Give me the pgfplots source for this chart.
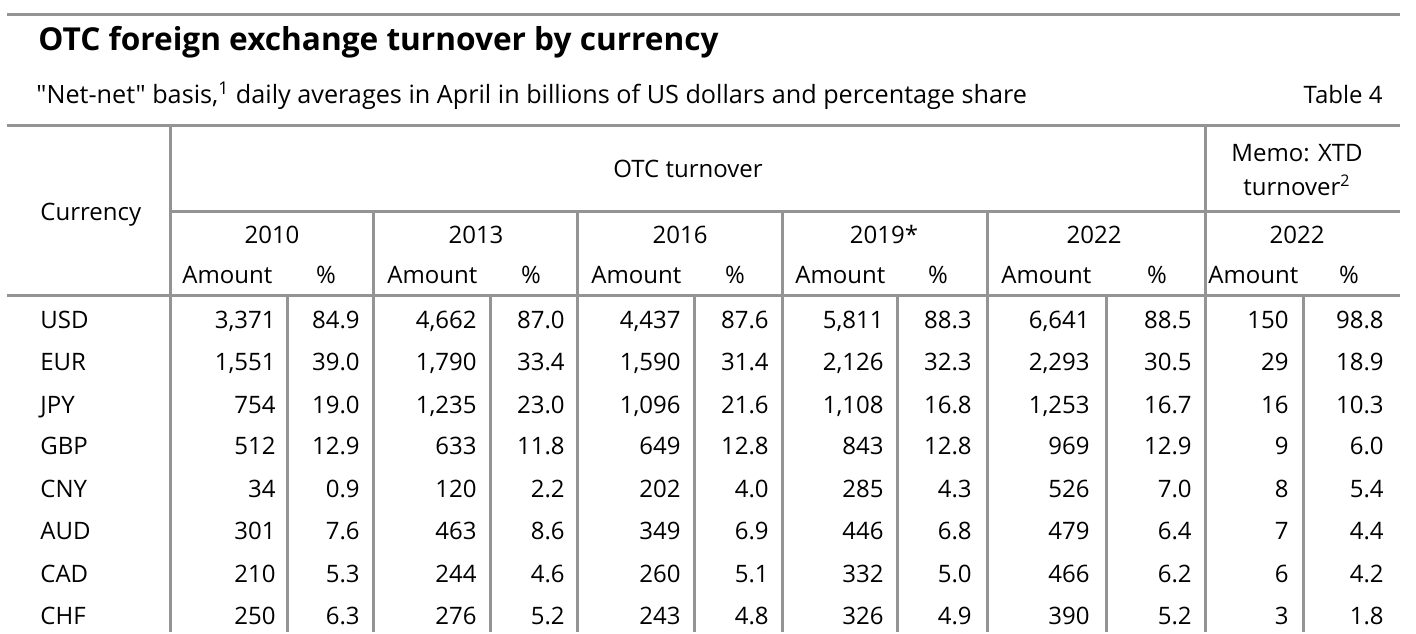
\documentclass[border=0pt]{standalone}
\usepackage{fontspec}
\setmainfont{Open Sans}[Ligatures=TeXOff]
\usepackage{pgfplots}
\usepackage{pgfplotstable}
\pgfplotsset{compat=1.18}

% baseline y (px from top) per row
\pgfplotstableread{
cur y a10 p10 a13 p13 a16 p16 a19 p19 a22 p22 am pm
USD 328 3,371 84.9 4,662 87.0 4,437 87.6 5,811 88.3 6,641 88.5 150 98.8
EUR 370 1,551 39.0 1,790 33.4 1,590 31.4 2,126 32.3 2,293 30.5 29 18.9
JPY 413 754 19.0 1,235 23.0 1,096 21.6 1,108 16.8 1,253 16.7 16 10.3
GBP 454 512 12.9 633 11.8 649 12.8 843 12.8 969 12.9 9 6.0
CNY 497 34 0.9 120 2.2 202 4.0 285 4.3 526 7.0 8 5.4
AUD 539 301 7.6 463 8.6 349 6.9 446 6.8 479 6.4 7 4.4
CAD 582 210 5.3 244 4.6 260 5.1 332 5.0 466 6.2 6 4.2
CHF 624 250 6.3 276 5.2 243 4.8 326 4.9 390 5.2 3 1.8
}\datatable

\newcommand\tabfont{\fontsize{12}{14}\selectfont}

\pgfplotsset{
  txt/.style={draw=none, mark=none, nodes near coords, point meta=explicit symbolic,
    nodes near coords style={inner sep=0pt, font=\tabfont, text=black}},
  re/.style={txt, nodes near coords style={anchor=base east}},
  le/.style={txt, nodes near coords style={anchor=base west}},
  ce/.style={txt, nodes near coords style={anchor=base}},
  rule/.style={draw=black!42, line width=1.5pt, mark=none},
}

\begin{document}
\begin{tikzpicture}
\begin{axis}[
  scale only axis, width=708pt, height=316pt,
  xmin=0, xmax=1416, ymin=0, ymax=632, y dir=reverse,
  hide axis, clip=false,
]
\addplot[fill=white, draw=none, mark=none] coordinates {(0,0) (1416,0) (1416,632) (0,632)};

% rules
\addplot[rule] coordinates {(7,14) (1400,14)};
\addplot[rule] coordinates {(7,125) (1400,125)};
\addplot[rule] coordinates {(170,211) (1400,211)};
\addplot[rule] coordinates {(7,295) (1400,295)};
\addplot[rule] coordinates {(170,125) (170,632)};
\addplot[rule] coordinates {(1205,125) (1205,632)};
\addplot[rule] coordinates {(373,211) (373,632)};
\addplot[rule] coordinates {(577,211) (577,632)};
\addplot[rule] coordinates {(782,211) (782,632)};
\addplot[rule] coordinates {(987,211) (987,632)};
\addplot[rule] coordinates {(287,295) (287,632)};
\addplot[rule] coordinates {(490,295) (490,632)};
\addplot[rule] coordinates {(694,295) (694,632)};
\addplot[rule] coordinates {(897,295) (897,632)};
\addplot[rule] coordinates {(1106,295) (1106,632)};
\addplot[rule] coordinates {(1303,295) (1303,632)};

% title and subtitle
\addplot[le, nodes near coords style={font=\bfseries\fontsize{15.8}{18}\selectfont}] coordinates {(38,50) [OTC foreign exchange turnover by currency]};
\addplot[le, nodes near coords style={font=\fontsize{12.6}{15}\selectfont}] coordinates {(36,103) ["Net-net" basis,\textsuperscript{1} daily averages in April in billions of US dollars and percentage share]};
\addplot[re] coordinates {(1383,103) [Table 4]};

% headers
\addplot[le] coordinates {(40,220) [Currency]};
\addplot[ce] coordinates {(688,177) [OTC turnover] (1297,161) [Memo: XTD] (1297,195) [turnover\textsuperscript{2}]};
\addplot[ce] coordinates {(272,243) [2010] (476,243) [2013] (680,243) [2016] (884,243) [2019*] (1094,243) [2022] (1297,243) [2022]};
\addplot[le] coordinates {(182,283) [Amount] (387,283) [Amount] (591,283) [Amount] (795,283) [Amount] (1001,283) [Amount] (1208,283) [Amount]};
\addplot[ce] coordinates {(326,283) [\%] (531,283) [\%] (735,283) [\%] (938,283) [\%] (1157,283) [\%] (1349,283) [\%]};

% data
\addplot[le] table[x expr=40, y=y, meta=cur] {\datatable};
\addplot[re] table[x expr=276, y=y, meta=a10] {\datatable};
\addplot[re] table[x expr=360, y=y, meta=p10] {\datatable};
\addplot[re] table[x expr=477, y=y, meta=a13] {\datatable};
\addplot[re] table[x expr=565, y=y, meta=p13] {\datatable};
\addplot[re] table[x expr=681, y=y, meta=a16] {\datatable};
\addplot[re] table[x expr=769, y=y, meta=p16] {\datatable};
\addplot[re] table[x expr=884, y=y, meta=a19] {\datatable};
\addplot[re] table[x expr=972, y=y, meta=p19] {\datatable};
\addplot[re] table[x expr=1090, y=y, meta=a22] {\datatable};
\addplot[re] table[x expr=1192, y=y, meta=p22] {\datatable};
\addplot[re] table[x expr=1289, y=y, meta=am] {\datatable};
\addplot[re] table[x expr=1384, y=y, meta=pm] {\datatable};
\end{axis}
\end{tikzpicture}
\end{document}
